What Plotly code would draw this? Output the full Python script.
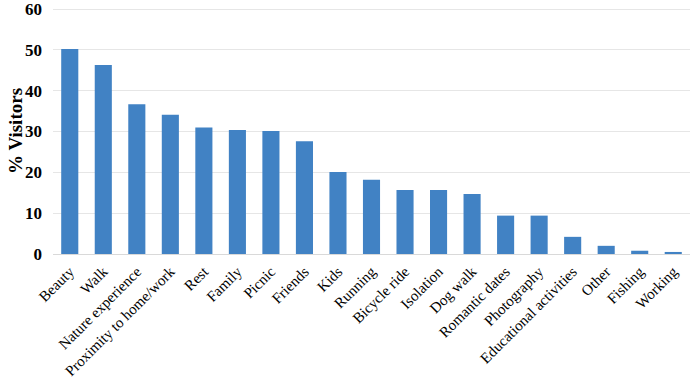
import plotly.graph_objects as go

categories = ["Beauty", "Walk", "Nature experience", "Proximity to home/work", "Rest",
              "Family", "Picnic", "Friends", "Kids", "Running", "Bicycle ride",
              "Isolation", "Dog walk", "Romantic dates", "Photography",
              "Educational activities", "Other", "Fishing", "Working"]
visitors_pct = [50.2, 46.3, 36.7, 34.1, 31.0, 30.4, 30.1, 27.6, 20.1, 18.2, 15.7,
                15.7, 14.7, 9.4, 9.4, 4.2, 2.0, 0.8, 0.5]
y_ticks = [0, 10, 20, 30, 40, 50, 60]
y_title = "% Visitors"

fig = go.Figure(go.Bar(
    x=categories, y=visitors_pct,
    marker=dict(color="#4182c4", line=dict(width=0)),
))

fig.update_layout(
    width=692, height=388,
    margin=dict(l=53, r=2, t=8, b=134),
    paper_bgcolor="white", plot_bgcolor="white",
    bargap=0.49,
    showlegend=False,
    font=dict(family="Liberation Serif", color="black"),
)
fig.update_xaxes(
    tickangle=-45, tickfont=dict(size=15, family="Liberation Serif"),
    showgrid=False, showline=False, ticks="", automargin=False,
    ticklabelstandoff=5,
)
fig.update_yaxes(
    range=[0, 60.25], tickvals=y_ticks, automargin=False,
    tickfont=dict(size=17, family="Liberation Serif", weight="bold"),
    ticklabeloverflow="allow",
    showgrid=True, gridcolor="#e6e6e6", gridwidth=1,
    zeroline=True, zerolinecolor="#d9d9d9", zerolinewidth=1,
    ticks="", ticklabelstandoff=10,
)
fig.add_annotation(
    text=f"<b>{y_title}</b>", xref="paper", yref="paper",
    x=-0.0597, y=0.5, xanchor="center", yanchor="middle",
    textangle=-90, showarrow=False,
    font=dict(size=19, family="Liberation Serif", color="black"),
)

fig.write_html("out.html", config={"displayModeBar": False},
               post_script="document.body.style.margin='0';")
